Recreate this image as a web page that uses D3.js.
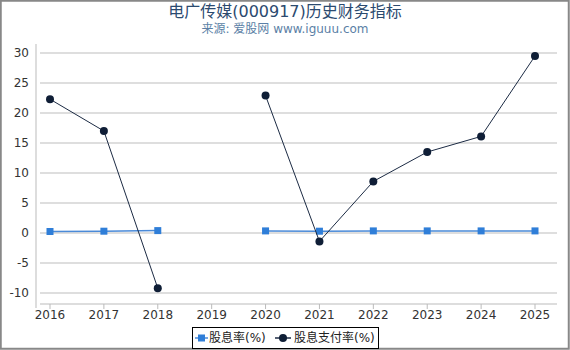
<!DOCTYPE html>
<html lang="zh">
<head>
<meta charset="UTF-8">
<script src="https://d3js.org/d3.v7.min.js"></script>
<style>
  body { margin: 0; background: #fff; }
  text { font-family: "DejaVu Sans", "Noto Sans CJK SC", sans-serif; }
</style>
</head>
<body>
<svg id="chart" width="570" height="350"></svg>
<script>
// data
const years = [2016, 2017, 2018, 2019, 2020, 2021, 2022, 2023, 2024, 2025];
const yieldRate = [0.25, 0.3, 0.4, null, 0.35, 0.3, 0.35, 0.35, 0.35, 0.35];
const payoutRate = [22.3, 17.0, -9.2, null, 22.9, -1.4, 8.6, 13.5, 16.1, 29.5];
const yTicks = [-10, -5, 0, 5, 10, 15, 20, 25, 30];

const svg = d3.select("#chart");
const W = 570, H = 350;

svg.append("rect")
    .attr("x", 0.75).attr("y", 0.75)
    .attr("width", W - 2).attr("height", H - 2)
    .attr("fill", "#fff").attr("stroke", "#888").attr("stroke-width", 2);

svg.append("text")
    .attr("x", 285).attr("y", 17)
    .attr("text-anchor", "middle")
    .attr("font-size", 16)
    .attr("fill", "#2b4a6f")
    .text("电广传媒(000917)历史财务指标");

svg.append("text")
    .attr("x", 285).attr("y", 33)
    .attr("text-anchor", "middle")
    .attr("font-size", 12)
    .attr("fill", "#5b7fa6")
    .text("来源: 爱股网 www.iguuu.com");

const plotL = 36, plotR = 557, plotT = 44, plotB = 304;

const x = d3.scalePoint().domain(years).range([50, 535]);
const y = d3.scaleLinear().domain([-10, 30]).range([293, 53]);

// grid
svg.append("g").selectAll("line")
    .data(yTicks).enter().append("line")
    .attr("x1", 40).attr("x2", plotR)
    .attr("y1", d => y(d)).attr("y2", d => y(d))
    .attr("stroke", "#bdbdbd").attr("stroke-width", 1);

// y axis
svg.append("line")
    .attr("x1", plotL).attr("x2", plotL)
    .attr("y1", plotT).attr("y2", plotB + 4)
    .attr("stroke", "#bbb");
svg.append("g").selectAll("text")
    .data(yTicks).enter().append("text")
    .attr("x", 29).attr("y", d => y(d))
    .attr("dy", "0.35em")
    .attr("text-anchor", "end")
    .attr("font-size", 12)
    .attr("fill", "#333")
    .text(d => d);

// x axis
svg.append("line")
    .attr("x1", 40).attr("x2", plotR)
    .attr("y1", plotB).attr("y2", plotB)
    .attr("stroke", "#bbb");
const xg = svg.append("g");
xg.selectAll("line")
    .data(years).enter().append("line")
    .attr("x1", d => x(d)).attr("x2", d => x(d))
    .attr("y1", plotB).attr("y2", plotB + 5)
    .attr("stroke", "#bbb");
xg.selectAll("text")
    .data(years).enter().append("text")
    .attr("x", d => x(d)).attr("y", 319)
    .attr("text-anchor", "middle")
    .attr("font-size", 12)
    .attr("fill", "#333")
    .text(d => d);

const line = d3.line()
    .defined(d => d[1] != null)
    .x(d => x(d[0]))
    .y(d => y(d[1]));

// dividend yield
const yData = years.map((d, i) => [d, yieldRate[i]]);
svg.append("path")
    .attr("d", line(yData))
    .attr("fill", "none")
    .attr("stroke", "#4a8ad8").attr("stroke-width", 1.5);
svg.append("g").selectAll("rect")
    .data(yData.filter(d => d[1] != null)).enter().append("rect")
    .attr("x", d => x(d[0]) - 3.5).attr("y", d => y(d[1]) - 3.5)
    .attr("width", 7).attr("height", 7)
    .attr("fill", "#2f7ed8");

// payout ratio
const pData = years.map((d, i) => [d, payoutRate[i]]);
svg.append("path")
    .attr("d", line(pData))
    .attr("fill", "none")
    .attr("stroke", "#1c2b44").attr("stroke-width", 1);
svg.append("g").selectAll("circle")
    .data(pData.filter(d => d[1] != null)).enter().append("circle")
    .attr("cx", d => x(d[0])).attr("cy", d => y(d[1]))
    .attr("r", 4)
    .attr("fill", "#0f1e36");

// legend
const lg = svg.append("g");
lg.append("rect")
    .attr("x", 192.5).attr("y", 327.5)
    .attr("width", 186).attr("height", 21)
    .attr("fill", "#fff").attr("stroke", "#000");
lg.append("line")
    .attr("x1", 195).attr("x2", 208).attr("y1", 338).attr("y2", 338)
    .attr("stroke", "#4a8ad8").attr("stroke-width", 1.5);
lg.append("rect")
    .attr("x", 198).attr("y", 334.5).attr("width", 7).attr("height", 7)
    .attr("fill", "#2f7ed8");
lg.append("text")
    .attr("x", 209).attr("y", 338).attr("dy", "0.35em")
    .attr("font-size", 12).attr("fill", "#222")
    .text("股息率(%)");
lg.append("line")
    .attr("x1", 275).attr("x2", 291).attr("y1", 338).attr("y2", 338)
    .attr("stroke", "#1c2b44").attr("stroke-width", 1.5);
lg.append("circle")
    .attr("cx", 283).attr("cy", 338).attr("r", 4)
    .attr("fill", "#0f1e36");
lg.append("text")
    .attr("x", 294).attr("y", 338).attr("dy", "0.35em")
    .attr("font-size", 12).attr("fill", "#222")
    .text("股息支付率(%)");
</script>
</body>
</html>
